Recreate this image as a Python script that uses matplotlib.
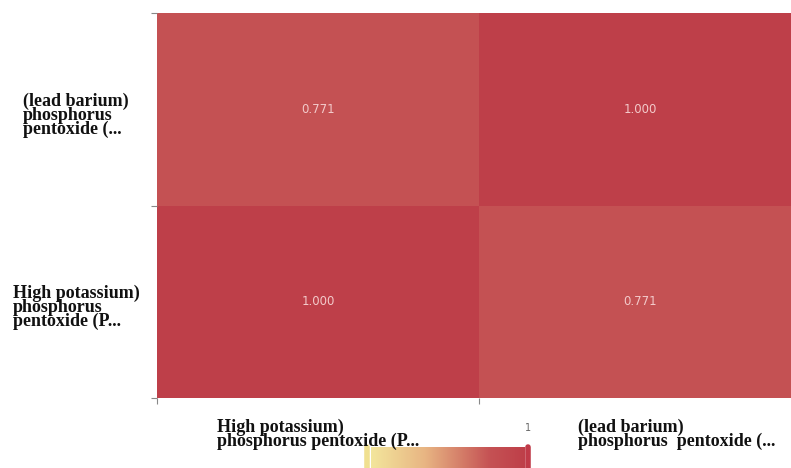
import matplotlib
matplotlib.use("Agg")
import matplotlib.pyplot as plt
import numpy as np
from matplotlib.colors import LinearSegmentedColormap
from matplotlib.transforms import blended_transform_factory

# data: correlation between the two glass types
categories = ["High potassium)\nphosphorus pentoxide (P...",
              "(lead barium)\nphosphorus  pentoxide (..."]
row_labels = ["High potassium)\nphosphorus\npentoxide (P...",
              "(lead barium)\nphosphorus\npentoxide (..."]
corr = np.array([[1.000, 0.771],
                 [0.771, 1.000]])
cbar_ticks = [1]

W, H = 791, 468
fig = plt.figure(figsize=(W / 100, H / 100), dpi=100)

cmap = LinearSegmentedColormap.from_list(
    "ylrd", [(0.0, "#F3E69C"), (0.35, "#E8B583"), (0.771, "#C55254"), (1.0, "#BE3F49")])

# heatmap axes (right edge runs past the figure, as in the reference)
ax = fig.add_axes([157 / W, 1 - 398 / H, 644 / W, 385 / H])
ax.imshow(corr, cmap=cmap, vmin=0, vmax=1, aspect="auto", origin="lower",
          interpolation="nearest")
for s in ax.spines.values():
    s.set_visible(False)

# ticks at cell boundaries
ax.set_xticks([-0.5, 0.5, 1.5])
ax.set_yticks([-0.5, 0.5, 1.5])
ax.set_xticklabels([])
ax.set_yticklabels([])
ax.tick_params(length=4, width=0.8, color="#888888")
ax.set_xlim(-0.5, 1.5)
ax.set_ylim(-0.5, 1.5)

for i in range(2):
    for j in range(2):
        ax.text(j, i, f"{corr[i, j]:.3f}", ha="center", va="center",
                color="#F3CACA", fontsize=8.5, family="DejaVu Sans")

lab_font = dict(family="Liberation Serif", fontweight="bold", fontsize=13,
                linespacing=0.75, color="#111111")

# x labels (left anchored, pixel positions from the reference)
x_anchor = [217, 578]
for lab, xp in zip(categories, x_anchor):
    fig.text(xp / W, 1 - 419 / H, lab, ha="left", va="top",
             multialignment="left", **lab_font)

# y labels, centred block, left-aligned lines
ty = blended_transform_factory(fig.transFigure, ax.transData)
for k, lab in enumerate(row_labels):
    ax.text(76 / W, k - 0.03, lab, transform=ty, ha="center", va="center",
            multialignment="left", clip_on=False, **lab_font)

# colour bar (bottom, partially clipped)
cax = fig.add_axes([364 / W, 1 - 478 / H, 167 / W, 31 / H])
grad = np.linspace(0, 1, 256).reshape(1, -1)
cax.imshow(grad, cmap=cmap, aspect="auto", extent=[0, 1, 0, 1])
cax.set_xlim(-0.045, 1.045)
cax.set_ylim(0, 1)
cax.plot([-0.025, -0.025], [0.0, 1.0], color="#F0E090", lw=4,
         solid_capstyle="round", clip_on=False)
cax.plot([1.025, 1.025], [0.0, 1.0], color="#C03A48", lw=4,
         solid_capstyle="round", clip_on=False)
cax.set_yticks([])
cax.xaxis.set_ticks_position("top")
cax.set_xticks([1.025])
cax.set_xticklabels([str(t) for t in cbar_ticks])
cax.tick_params(axis="x", length=0, pad=10, labelsize=7, labelcolor="#666666")
for s in cax.spines.values():
    s.set_visible(False)

fig.savefig("out.png", dpi=100)
